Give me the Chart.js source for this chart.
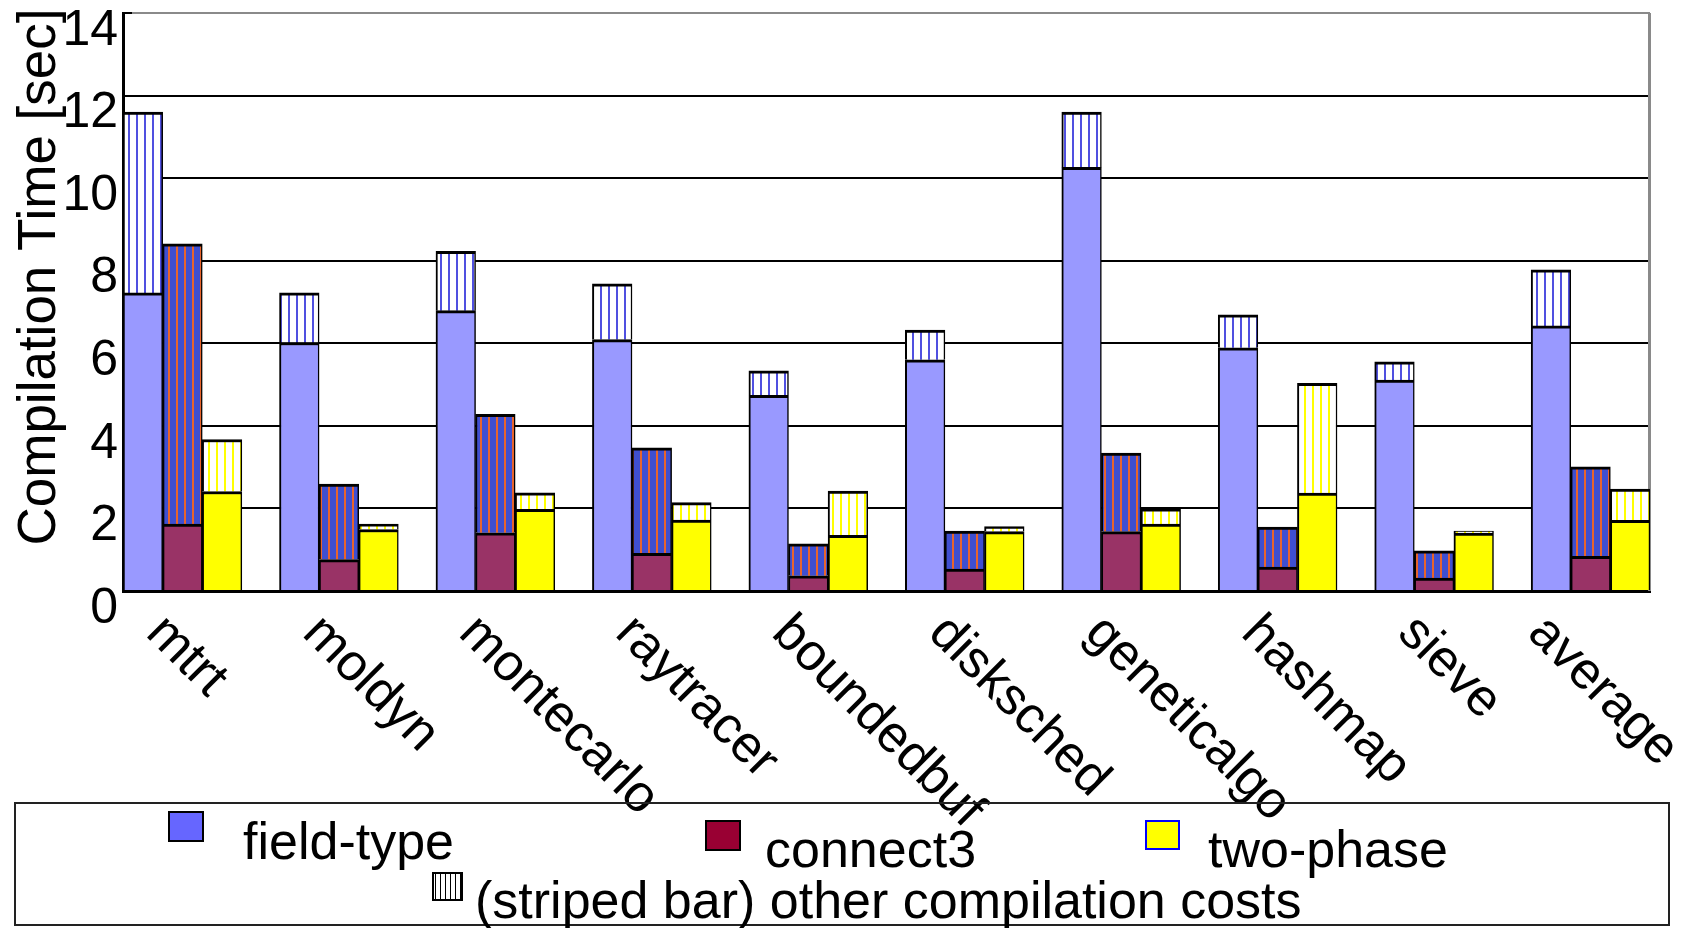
<!DOCTYPE html>
<html><head><meta charset="utf-8">
<script src="https://cdn.jsdelivr.net/npm/chart.js@4.4.1/dist/chart.umd.min.js"></script>
<style>html,body{margin:0;padding:0;background:#fff;overflow:hidden}#wrap{width:1691px;height:928px}</style>
</head><body><div id="wrap"><canvas id="c" width="1691" height="928"></canvas></div>
<script>
const categories = ['mtrt','moldyn','montecarlo','raytracer','boundedbuf','disksched','geneticalgo','hashmap','sieve','average'];
const fieldTypeBase  = [7.22, 6.02, 6.79, 6.09, 4.74, 5.60, 10.26, 5.89, 5.11, 6.42];
const fieldTypeOther = [4.38, 1.20, 1.44, 1.35, 0.59, 0.72, 1.34, 0.80, 0.44, 1.36];
const connect3Base   = [1.62, 0.76, 1.41, 0.91, 0.37, 0.53, 1.44, 0.58, 0.31, 0.84];
const connect3Other  = [6.79, 1.83, 2.87, 2.56, 0.77, 0.92, 1.90, 0.97, 0.66, 2.17];
const twoPhaseBase   = [2.41, 1.49, 1.98, 1.72, 1.35, 1.44, 1.62, 2.37, 1.40, 1.71];
const twoPhaseOther  = [1.26, 0.13, 0.40, 0.42, 1.07, 0.12, 0.37, 2.66, 0.05, 0.76];
const yTicks = [0, 2, 4, 6, 8, 10, 12, 14];
const seriesNames = ['field-type', 'connect3', 'two-phase'];
const yTitle = 'Compilation Time [sec]';
const legendNote = '(striped bar) other compilation costs';

const FONT = '"Liberation Sans", Arial, Helvetica, sans-serif';
const canvas = document.getElementById('c');
const ctx0 = canvas.getContext('2d');

function stripes(bg, fg, pitch, w) {
  const c = document.createElement('canvas');
  c.width = pitch; c.height = 4;
  const g = c.getContext('2d');
  g.fillStyle = bg; g.fillRect(0, 0, pitch, 4);
  g.fillStyle = fg; g.fillRect(0, 0, w, 4);
  return ctx0.createPattern(c, 'repeat');
}
const ftPat = stripes('#ffffff', '#5050e0', 8, 2);
const c3Pat = stripes('#3f4fd0', '#e8642c', 8, 2);
const tpPat = stripes('#ffffff', '#ffff00', 8, 2);
const legPat = stripes('#ffffff', '#000000', 5, 1);

const toXY = arr => arr.map((v, i) => ({x: i, y: v}));
const BAR = 39.6;
function ds(label, data, color, stack) {
  return {label, data: toXY(data), backgroundColor: color, borderColor: '#000',
    borderWidth: {top: 3, left: 2, right: 1.5, bottom: 0},
    stack, barThickness: BAR};
}

const deco = {
  id: 'deco',
  beforeDatasetsDraw(chart) {
    const {ctx, chartArea: a} = chart;
    ctx.save();
    ctx.strokeStyle = '#8a8a8a'; ctx.lineWidth = 3;
    ctx.beginPath(); ctx.moveTo(a.right - 0.5, a.top); ctx.lineTo(a.right - 0.5, a.bottom); ctx.stroke();
    ctx.strokeStyle = '#000'; ctx.lineWidth = 2;
    ctx.beginPath(); ctx.moveTo(a.left, a.top); ctx.lineTo(a.left + 9, a.top); ctx.stroke();
    ctx.restore();
  },
  afterDraw(chart) {
    const {ctx} = chart;
    const xs = chart.scales.x;
    const W = chart.width;
    ctx.save();
    ctx.fillStyle = '#000';
    ctx.font = '52px ' + FONT;
    ctx.textAlign = 'left'; ctx.textBaseline = 'alphabetic';
    const c45 = Math.SQRT1_2;
    categories.forEach((lab, i) => {
      const px = xs.getPixelForValue(i);
      const w = ctx.measureText(lab).width;
      const sx = Math.min(px - 38, W - 32 - w * c45);
      ctx.save();
      ctx.translate(sx, 635);
      ctx.rotate(Math.PI / 4);
      ctx.fillText(lab, 0, 0);
      ctx.restore();
    });
    // y title
    ctx.save();
    ctx.font = '53px ' + FONT;
    ctx.translate(55, 277);
    ctx.rotate(-Math.PI / 2);
    ctx.textAlign = 'center';
    ctx.fillText(yTitle, 0, 0);
    ctx.restore();
    // legend box
    ctx.lineWidth = 2; ctx.strokeStyle = '#222';
    ctx.strokeRect(15, 803, 1654, 122);
    const sw = [
      {x: 169, y: 812, w: 34, h: 29, fill: '#6666ff', stroke: '#000', tx: 243, ty: 859},
      {x: 706, y: 821, w: 34, h: 29, fill: '#990033', stroke: '#000', tx: 765, ty: 867},
      {x: 1146, y: 821, w: 33, h: 28, fill: '#ffff00', stroke: '#0000ff', tx: 1208, ty: 867}
    ];
    sw.forEach((s, i) => {
      ctx.fillStyle = s.fill; ctx.fillRect(s.x, s.y, s.w, s.h);
      ctx.strokeStyle = s.stroke; ctx.lineWidth = 2; ctx.strokeRect(s.x, s.y, s.w, s.h);
      ctx.fillStyle = '#000'; ctx.fillText(seriesNames[i], s.tx, s.ty);
    });
    ctx.fillStyle = legPat; ctx.fillRect(433, 873, 29, 27);
    ctx.strokeStyle = '#000'; ctx.lineWidth = 2; ctx.strokeRect(433, 873, 29, 27);
    ctx.fillStyle = '#000';
    ctx.fillText(legendNote, 475, 918);
    ctx.restore();
  }
};

new Chart(canvas, {
  type: 'bar',
  data: {
    datasets: [
      ds('field-type', fieldTypeBase, '#9999ff', 'ft'),
      ds('field-type other', fieldTypeOther, ftPat, 'ft'),
      ds('connect3', connect3Base, '#993366', 'c3'),
      ds('connect3 other', connect3Other, c3Pat, 'c3'),
      ds('two-phase', twoPhaseBase, '#ffff00', 'tp'),
      ds('two-phase other', twoPhaseOther, tpPat, 'tp')
    ]
  },
  options: {
    responsive: false, animation: false, devicePixelRatio: 1,
    layout: {padding: {left: 0, top: 13, right: 41, bottom: 0}},
    plugins: {legend: {display: false}, tooltip: {enabled: false}, title: {display: false}},
    scales: {
      x: {
        type: 'linear', min: -0.38, max: 9.38, stacked: true, offset: false,
        grid: {display: false, drawTicks: false},
        ticks: {display: false},
        border: {display: true, color: '#000', width: 3},
        afterBuildTicks: s => { s.ticks = categories.map((_, i) => ({value: i})); },
        afterFit: s => { s.height = 337; s.paddingLeft = 0; s.paddingRight = 0; }
      },
      y: {
        min: 0, max: 14, stacked: true,
        afterBuildTicks: s => { s.ticks = yTicks.map(v => ({value: v})); },
        ticks: {font: {family: FONT, size: 50}, color: '#000', padding: 5, labelOffset: 18},
        grid: {color: c => (c.tick && c.tick.value === 14) ? '#8a8a8a' : '#000', lineWidth: 2, drawTicks: false},
        border: {color: '#000', width: 3},
        afterFit: s => { s.width = 123; s.paddingTop = 0; s.paddingBottom = 0; }
      }
    }
  },
  plugins: [deco]
});
</script>
</body></html>
